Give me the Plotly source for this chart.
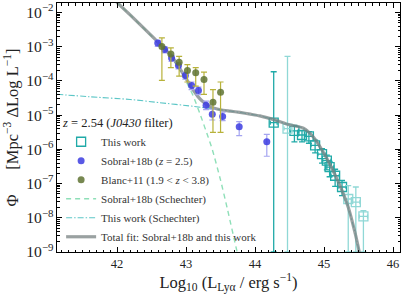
import numpy as np
import plotly.graph_objects as go

# ---------------- data (log10 values) ----------------
# Sobral+18b (z = 2.5)
sob_x = [42.59, 42.69, 42.79, 42.89, 42.99, 43.08, 43.18, 43.29, 43.38, 43.53, 43.77, 44.17]
sob_logphi = [-2.89, -3.08, -3.33, -3.55, -3.84, -4.13, -4.28, -4.71, -4.97, -5.04, -5.34, -5.78]
sob_err_up = [0.08, 0.08, 0.08, 0.09, 0.09, 0.10, 0.10, 0.12, 0.15, 0.13, 0.15, 0.22]
sob_err_dn = [0.10, 0.10, 0.10, 0.10, 0.11, 0.12, 0.12, 0.13, 0.17, 0.12, 0.26, 0.42]

# Blanc+11 (1.9 < z < 3.8)
blanc_x = [42.65, 42.78, 42.90, 43.02, 43.14, 43.26, 43.39, 43.50]
blanc_logphi = [-2.99, -3.21, -3.45, -3.69, -3.76, -3.96, -4.62, -4.33]
blanc_log_hi = [-2.74, -3.03, -3.28, -3.52, -3.61, -3.74, -4.25, -4.03]
blanc_log_lo = [-3.98, -3.61, -3.86, -4.03, -4.15, -4.39, -5.50, -5.50]

# This work (J0430) - main points
tw_x = [44.27, 44.57, 44.68, 44.78, 44.87, 44.97, 45.04, 45.08, 45.16, 45.26]
tw_logphi = [-5.22, -5.46, -5.58, -5.62, -5.88, -6.14, -6.33, -6.52, -6.77, -7.10]
tw_log_hi = [-3.73, -5.30, -5.45, -5.48, -5.73, -5.98, -6.17, -6.35, -6.58, -6.91]
tw_log_lo = [-9.0, -5.78, -5.78, -5.82, -6.10, -6.40, -6.60, -6.80, -7.08, -7.35]
tw_xerr = [0.05, 0.06, 0.06, 0.06, 0.06, 0.06, 0.06, 0.06, 0.06, 0.06]

# This work (J0430) - lighter points
twl_x = [44.47, 45.35, 45.46, 45.57]
twl_logphi = [-5.39, -7.45, -7.54, -7.96]
twl_log_hi = [-3.28, -7.06, -7.10, -7.79]
twl_log_lo = [-9.0, -9.0, -9.0, -9.0]
twl_xerr = [0.05, 0.06, 0.06, 0.06]

# Sobral+18b Schechter curve
schs_x = [41.9, 42.01, 42.19, 42.58, 42.80, 42.96, 43.10, 43.20, 43.32, 43.38, 43.50, 43.60, 43.74, 43.80]
schs_logphi = [-1.50, -1.72, -2.07, -2.85, -3.33, -3.86, -4.42, -4.95, -5.64, -6.00, -6.90, -7.75, -9.00, -9.50]

# This work Schechter curve
scht_x = [41.13, 41.6, 42.19, 42.6, 43.10, 43.5, 43.64, 43.78, 43.93, 44.07, 44.27, 44.5, 44.7,
          44.85, 45.0, 45.1, 45.23, 45.35, 45.45, 45.51, 45.53]
scht_logphi = [-4.39, -4.46, -4.54, -4.63, -4.74, -4.84, -4.88, -4.92, -4.97, -5.02, -5.13, -5.28, -5.38,
               -5.65, -6.12, -6.50, -7.06, -7.69, -8.45, -9.00, -9.20]

# Total fit
tot_x = [41.9, 42.01, 42.19, 42.58, 42.80, 42.96, 43.10, 43.17, 43.23, 43.35, 43.5, 43.64, 43.78, 43.93,
         44.07, 44.27, 44.5, 44.7, 44.85, 45.0, 45.1, 45.23, 45.35, 45.45, 45.51, 45.53]
tot_logphi = [-1.50, -1.72, -2.07, -2.84, -3.30, -3.80, -4.25, -4.45, -4.58, -4.75, -4.84, -4.88, -4.92, -4.97,
              -5.02, -5.13, -5.28, -5.38, -5.65, -6.12, -6.50, -7.06, -7.69, -8.45, -9.00, -9.20]

# ---------------- helpers ----------------
def lin(a):
    return 10 ** np.array(a, dtype=float)

FONT = "Liberation Serif"

fig = go.Figure()

# Sobral Schechter (dashed)
fig.add_trace(go.Scatter(
    x=schs_x, y=lin(schs_logphi), mode="lines", name="Sobral+18b (Schechter)",
    line=dict(color="#8edfb8", width=1.4, dash="5px,4px", shape="spline", smoothing=0.6),
    legendrank=4))

# This work Schechter (dash-dot)
fig.add_trace(go.Scatter(
    x=scht_x, y=lin(scht_logphi), mode="lines", name="This work (Schechter)",
    line=dict(color="#5cc6c6", width=1.1, dash="6px,2px,1.5px,2px", shape="spline", smoothing=0.6),
    legendrank=5))

# This work points
p = lin(tw_logphi)
fig.add_trace(go.Scatter(
    x=tw_x, y=p, mode="markers", name="This work",
    marker=dict(symbol="square-open", size=9, color="#20aaa8", line=dict(width=1.3)),
    error_y=dict(type="data", symmetric=False, array=lin(tw_log_hi) - p,
                 arrayminus=p - lin(tw_log_lo), color="#20aaa8", thickness=1.3, width=3),
    error_x=dict(type="data", array=tw_xerr, color="#20aaa8", thickness=1.3, width=2),
    legendrank=1))
pl = lin(twl_logphi)
fig.add_trace(go.Scatter(
    x=twl_x, y=pl, mode="markers", name="This work (light)", showlegend=False,
    marker=dict(symbol="square-open", size=9, color="#90d8d6", line=dict(width=1.3)),
    error_y=dict(type="data", symmetric=False, array=lin(twl_log_hi) - pl,
                 arrayminus=pl - lin(twl_log_lo), color="#90d8d6", thickness=1.3, width=3),
    error_x=dict(type="data", array=twl_xerr, color="#90d8d6", thickness=1.3, width=2)))

# Total fit (gray, thick)
fig.add_trace(go.Scatter(
    x=tot_x, y=lin(tot_logphi), mode="lines", name="Total fit: Sobral+18b and this work",
    line=dict(color="rgba(120,130,130,0.75)", width=3.2, shape="spline", smoothing=0.6),
    legendrank=6))

# Sobral+18b points
s = lin(sob_logphi)
fig.add_trace(go.Scatter(
    x=sob_x, y=s, mode="markers", name="Sobral+18b (<i>z</i> = 2.5)",
    marker=dict(symbol="circle", size=7, color="rgba(60,60,225,0.85)"),
    error_y=dict(type="data", symmetric=False,
                 array=s * (10 ** np.array(sob_err_up) - 1),
                 arrayminus=s * (1 - 10 ** (-np.array(sob_err_dn))),
                 color="#a4a4f0", thickness=1.2, width=3),
    legendrank=2))

# Blanc+11 points
b = lin(blanc_logphi)
fig.add_trace(go.Scatter(
    x=blanc_x, y=b, mode="markers", name="Blanc+11 (1.9 &lt; <i>z</i> &lt; 3.8)",
    marker=dict(symbol="circle", size=7, color="rgba(95,115,50,0.85)"),
    error_y=dict(type="data", symmetric=False, array=lin(blanc_log_hi) - b,
                 arrayminus=b - lin(blanc_log_lo), color="#b8b23a", thickness=1.2, width=3),
    legendrank=3))

axis_common = dict(showline=True, linecolor="black", linewidth=1, mirror="allticks",
                   ticks="inside", ticklen=5, tickwidth=1, tickcolor="black",
                   showgrid=False, zeroline=False, automargin=False,
                   tickfont=dict(family=FONT, size=12.5, color="#222"))

fig.update_layout(
    width=407, height=298,
    margin=dict(l=57, r=7, t=3, b=46, autoexpand=False),
    paper_bgcolor="white", plot_bgcolor="white",
    font=dict(family=FONT, size=11, color="#222"),
    showlegend=True,
    legend=dict(x=0.012, y=0.0, xanchor="left", yanchor="bottom",
                bgcolor="rgba(0,0,0,0)", borderwidth=0,
                font=dict(family=FONT, size=11, color="#333"),
                title=dict(text="<i>z</i> = 2.54 (<i>J0430</i> filter)",
                           font=dict(family=FONT, size=12.5, color="#222")),
                itemwidth=30, tracegroupgap=0, traceorder="normal"),
    xaxis=dict(range=[41.13, 46.1], dtick=1, tick0=42,
               minor=dict(ticks="inside", ticklen=2.5, dtick=0.1, tickcolor="black", showgrid=False),
               title=dict(text="Log<sub>10</sub> (L<sub>Ly\u03b1</sub> / erg s<sup>\u22121</sup>)",
                          font=dict(family=FONT, size=16.5, color="#222"), standoff=5),
               **axis_common),
    yaxis=dict(type="log", range=[-9, -1.72], dtick=1, exponentformat="power",
               minor=dict(ticks="inside", ticklen=2.5, dtick="D1", tickcolor="black", showgrid=False),
               title=dict(text="\u03a6\u00a0\u00a0\u00a0\u00a0\u00a0\u00a0[Mpc<sup>\u22123</sup> \u0394Log L<sup>\u22121</sup>]",
                          font=dict(family=FONT, size=16.5, color="#222"), standoff=3),
               **axis_common),
)

fig.write_html("out.html", config={"displayModeBar": False},
               post_script="document.body.style.margin='0';document.body.style.overflow='hidden';")
